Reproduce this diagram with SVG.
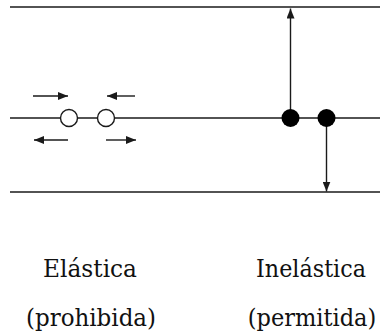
<svg xmlns="http://www.w3.org/2000/svg" width="380" height="336" viewBox="0 0 380 336">
<style>
.ln{stroke:#1a1a1a;stroke-width:1.4;fill:none}
.ar{stroke:#1a1a1a;stroke-width:1.4;fill:none;marker-end:url(#ah)}
.open{fill:#fff;stroke:#1a1a1a;stroke-width:1.4}
.full{fill:#000}
text{font-family:"DejaVu Serif",serif;font-size:25px;fill:#111;text-anchor:middle}
</style>
<defs>
<marker id="ah" viewBox="0 0 10 8" refX="10" refY="4" markerWidth="10" markerHeight="8" markerUnits="userSpaceOnUse" orient="auto">
<path d="M0,0 L10,4 L0,8 Z" fill="#1a1a1a"/>
</marker>
</defs>
<rect width="380" height="336" fill="#fff"/>
<g id="levels">
<line class="ln" x1="10" y1="7" x2="380" y2="7"/>
<line class="ln" x1="10" y1="118" x2="380" y2="118"/>
<line class="ln" x1="10" y1="192" x2="380" y2="192"/>
</g>
<g id="connectors">
<line class="ar" x1="33" y1="96" x2="68" y2="96"/>
<line class="ar" x1="135" y1="96" x2="107" y2="96"/>
<line class="ar" x1="68" y1="140" x2="34" y2="140"/>
<line class="ar" x1="106" y1="140" x2="136" y2="140"/>
<line class="ar" x1="290.5" y1="118" x2="290.5" y2="8.5"/>
<line class="ar" x1="326.5" y1="118" x2="326.5" y2="191.5"/>
</g>
<g id="elastic">
<circle class="open" cx="69" cy="118" r="8.5"/>
<circle class="open" cx="106" cy="118" r="8.5"/>
<text x="90" y="277" textLength="94" lengthAdjust="spacingAndGlyphs">Elástica</text>
<text x="91" y="326" textLength="130" lengthAdjust="spacingAndGlyphs">(prohibida)</text>
</g>
<g id="inelastic">
<circle class="full" cx="290.5" cy="118" r="9"/>
<circle class="full" cx="326.5" cy="118" r="9"/>
<text x="311" y="277" textLength="110" lengthAdjust="spacingAndGlyphs">Inelástica</text>
<text transform="translate(312 326) scale(0.9 1)" x="0" y="0">(permitida)</text>
</g>
</svg>
